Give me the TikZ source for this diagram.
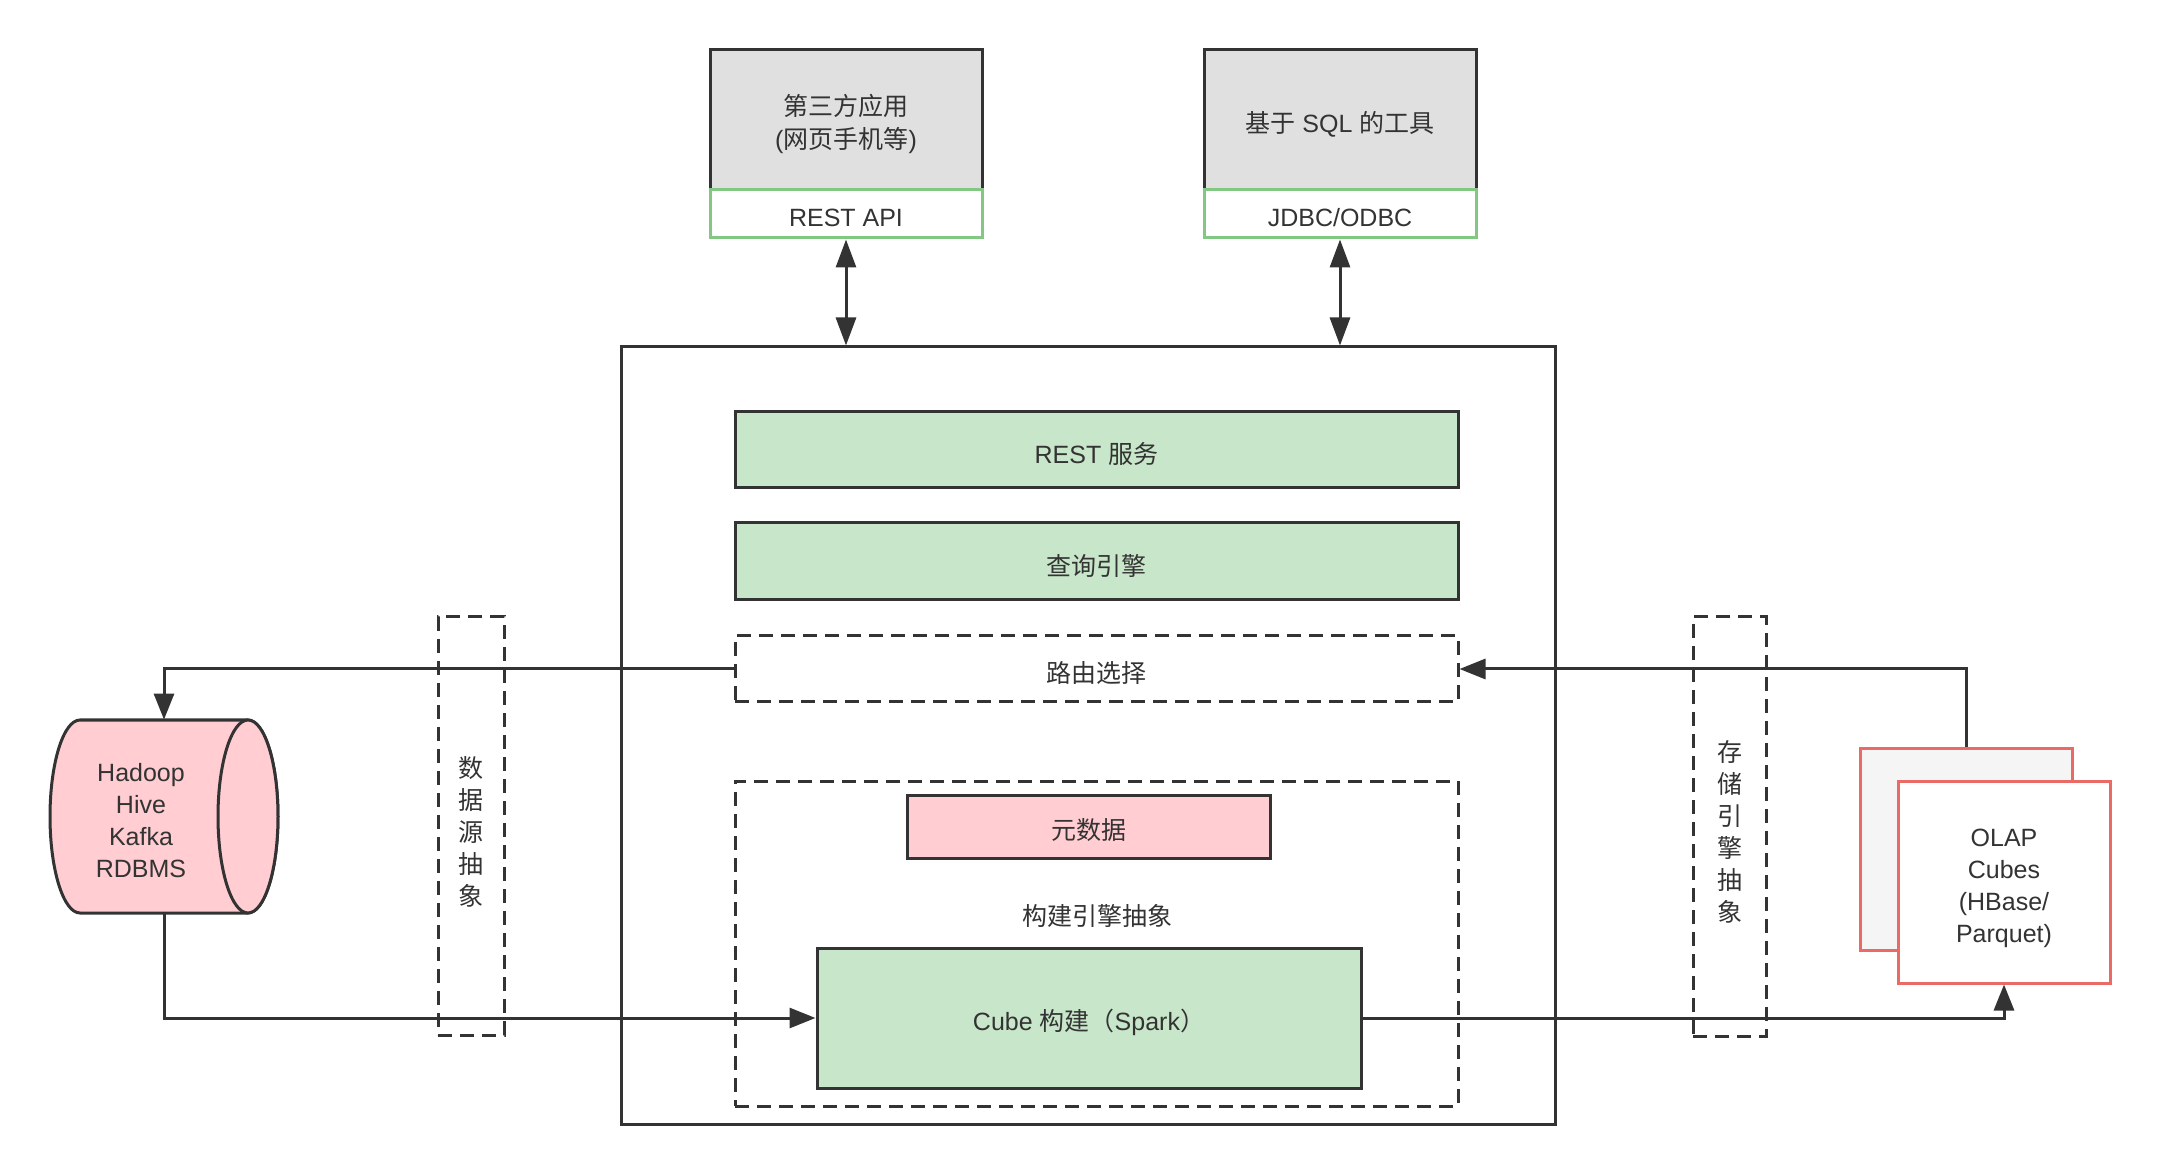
\documentclass[tikz,border=0pt]{standalone}
\usepackage{fontspec}
\setmainfont{Liberation Sans}
\newfontfamily\cjk{Noto Sans CJK SC}
\usetikzlibrary{arrows.meta,fit}
\definecolor{ink}{HTML}{333333}
\definecolor{grayfill}{HTML}{E0E0E0}
\definecolor{greenfill}{HTML}{C8E6C9}
\definecolor{greenline}{HTML}{82C882}
\definecolor{pinkfill}{HTML}{FFCDD2}
\definecolor{redline}{HTML}{EA6B66}
\definecolor{backfill}{HTML}{F5F5F5}
\newcommand\zh[1]{{\cjk #1}}
\begin{document}
\begin{tikzpicture}[x=0.5pt,y=-0.5pt,
  every node/.style={font=\fontsize{12.5}{16}\selectfont, text=ink, inner sep=0pt},
  lbl/.style={yshift=-2pt},
  solidbox/.style={draw=ink, line width=1.5pt, align=center},
  greybox/.style={solidbox, fill=grayfill},
  apibox/.style={draw=greenline, line width=1.5pt, fill=white},
  greenbox/.style={solidbox, fill=greenfill},
  pinkbox/.style={solidbox, fill=pinkfill},
  dashbox/.style={draw=ink, line width=1.5pt, dash pattern=on 7pt off 4pt, align=center},
  redbox/.style={draw=redline, line width=1.5pt},
  conn/.style={draw=ink, line width=1.5pt, -{Triangle[length=13pt,width=10pt]}},
  dconn/.style={draw=ink, line width=1.5pt, {Triangle[length=14pt,width=10pt]}-{Triangle[length=14pt,width=10pt]}}
]
\useasboundingbox[fill=white] (0,0) rectangle (2160,1176);

% top clients
\node[greybox, fit={(710,50)(982,190)}] (app1) {};
\node[lbl, align=center, font=\fontsize{12.5}{16.5}\selectfont] at (app1.center) {\zh{第三方应用}\\(\zh{网页手机等})};
\node[apibox, fit={(710,190)(982,238)}] (api1) {};
\node[lbl] at (api1.center) {REST API};
\node[greybox, fit={(1204,50)(1476,190)}] (app2) {};
\node[lbl] at (app2.center) {\zh{基于} SQL \zh{的工具}};
\node[apibox, fit={(1204,190)(1476,238)}] (api2) {};
\node[lbl] at (api2.center) {JDBC/ODBC};

% main box
\node[solidbox, fit={(621,347)(1555,1124)}] (main) {};
\node[greenbox, fit={(735,412)(1458,488)}] (rest) {};
\node[lbl] at (rest.center) {REST \zh{服务}};
\node[greenbox, fit={(735,523)(1458,600)}] (query) {};
\node[lbl] at (query.center) {\zh{查询引擎}};
\node[dashbox, fit={(735,636)(1458,702)}] (route) {};
\node[lbl] at (route.center) {\zh{路由选择}};
\node[dashbox, fit={(735,781)(1458,1106)}] (build) {};
\node[pinkbox, fit={(907,795)(1270,858)}] (meta) {};
\node[lbl] at (meta.center) {\zh{元数据}};
\node (buildlabel) at (1097,916) {\zh{构建引擎抽象}};
\node[greenbox, fit={(817,948)(1361,1088)}] (cube) {};
\node[lbl] at (cube.center) {Cube \zh{构建（}Spark\zh{）}};

% abstraction strips
\node[dashbox, fit={(438,617)(504,1035)}] (dsabs) {};
\node[align=center, text width=14pt, font=\cjk\fontsize{12.5}{16}\selectfont] (dstext) at (471,832) {数\\据\\源\\抽\\象};
\node[dashbox, fit={(1693,617)(1766,1036)}] (seabs) {};
\node[align=center, text width=14pt, font=\cjk\fontsize{12.5}{16}\selectfont] (setext) at (1730,832) {存\\储\\引\\擎\\抽\\象};

% cylinder
\node[fit={(50,720)(278,913)}] (cyl) {};
\draw[draw=ink, line width=1.5pt, fill=pinkfill] (80,720) -- (248,720)
  arc[start angle=-90, end angle=90, x radius=30, y radius=96.5] -- (80,913)
  arc[start angle=90, end angle=270, x radius=30, y radius=96.5] -- cycle;
\draw[draw=ink, line width=1.5pt, fill=pinkfill] (248,816.5) ellipse[x radius=30, y radius=96.5];
\node[align=center] (cyltext) at (141,821) {Hadoop\\Hive\\Kafka\\RDBMS};

% OLAP cubes
\node[redbox, fill=backfill, fit={(1860,748)(2072,950)}] (olapback) {};
\node[redbox, fill=white, fit={(1898,781)(2110,983)}] (olap) {};
\node[align=center] (olaptext) at (2004,888) {OLAP\\Cubes\\(HBase/\\Parquet)};

% connectors
\draw[dconn] (api1.south) -- (api1.south |- main.north);
\draw[dconn] (api2.south) -- (api2.south |- main.north);
\draw[conn] (route.west) -| (cyl.north);
\draw[conn] (cyl.south) |- (cube.west);
\draw[conn] (olapback.north) |- (route.east);
\draw[conn] (cube.east) -| (olap.south);
\end{tikzpicture}
\end{document}
